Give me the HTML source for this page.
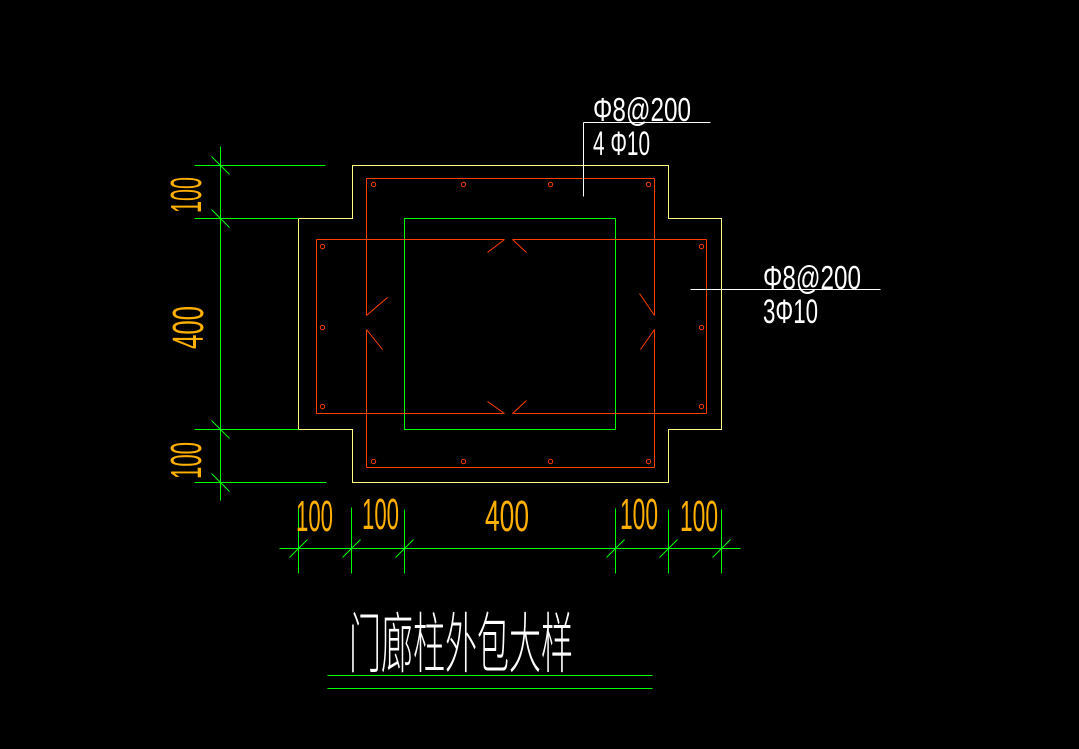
<!DOCTYPE html>
<html><head><meta charset="utf-8">
<style>
html,body{margin:0;padding:0;background:#000;}
svg{display:block;}
.t{font-family:"Liberation Sans",sans-serif;}
.c{font-family:"Liberation Sans","Noto Sans CJK SC",sans-serif;font-weight:200;}
</style></head>
<body>
<svg width="1079" height="749" viewBox="0 0 1079 749" xmlns="http://www.w3.org/2000/svg">
<rect width="1079" height="749" fill="#000"/>
<g transform="translate(0.5,0.5)" fill="none" stroke-width="1" shape-rendering="crispEdges">
  <!-- yellow outline -->
  <polygon stroke="#ffff80" points="352,165 668,165 668,218 721,218 721,429 668,429 668,482 352,482 352,429 298,429 298,218 352,218"/>
  <!-- green column -->
  <rect stroke="#00ff00" x="404" y="218" width="211" height="211"/>
  <!-- red vertical stirrup -->
  <g stroke="#ff3f00">
    <line x1="366" y1="178" x2="654" y2="178"/>
    <line x1="366" y1="467" x2="654" y2="467"/>
    <line x1="366" y1="178" x2="366" y2="315"/>
    <line x1="366" y1="329" x2="366" y2="467"/>
    <line x1="654" y1="178" x2="654" y2="315"/>
    <line x1="654" y1="329" x2="654" y2="467"/>
    <!-- horizontal stirrup -->
    <line x1="316" y1="239" x2="316" y2="413"/>
    <line x1="706" y1="239" x2="706" y2="413"/>
    <line x1="316" y1="239" x2="504" y2="239"/>
    <line x1="512" y1="239" x2="706" y2="239"/>
    <line x1="316" y1="413" x2="504" y2="413"/>
    <line x1="512" y1="413" x2="706" y2="413"/>
  </g>
  <g stroke="#ff3f00" shape-rendering="auto">
    <line x1="366" y1="315" x2="387" y2="297"/>
    <line x1="366" y1="329" x2="382" y2="349"/>
    <line x1="654" y1="315" x2="639" y2="293"/>
    <line x1="654" y1="329" x2="640" y2="349"/>
    <line x1="504" y1="239" x2="487" y2="252"/>
    <line x1="512" y1="239" x2="526" y2="252"/>
    <line x1="504" y1="413" x2="487" y2="401"/>
    <line x1="512" y1="413" x2="526" y2="400"/>
    <!-- rebar dots -->
    <circle cx="373" cy="184" r="2.2"/>
    <circle cx="463" cy="184" r="2.2"/>
    <circle cx="550" cy="184" r="2.2"/>
    <circle cx="648" cy="184" r="2.2"/>
    <circle cx="373" cy="461" r="2.2"/>
    <circle cx="463" cy="461" r="2.2"/>
    <circle cx="550" cy="461" r="2.2"/>
    <circle cx="648" cy="461" r="2.2"/>
    <circle cx="322" cy="246" r="2.2"/>
    <circle cx="322" cy="327" r="2.2"/>
    <circle cx="322" cy="406" r="2.2"/>
    <circle cx="701" cy="246" r="2.2"/>
    <circle cx="701" cy="327" r="2.2"/>
    <circle cx="701" cy="406" r="2.2"/>
  </g>
  <!-- left dimension -->
  <g stroke="#00ff00">
    <line x1="220" y1="146" x2="220" y2="500"/>
    <line x1="194" y1="165" x2="325" y2="165"/>
    <line x1="194" y1="218" x2="298" y2="218"/>
    <line x1="194" y1="429" x2="298" y2="429"/>
    <line x1="194" y1="482" x2="326" y2="482"/>
    <!-- bottom dimension -->
    <line x1="279" y1="548" x2="740" y2="548"/>
    <line x1="298" y1="508" x2="298" y2="573"/>
    <line x1="351" y1="507" x2="351" y2="573"/>
    <line x1="404" y1="509" x2="404" y2="573"/>
    <line x1="615" y1="508" x2="615" y2="573"/>
    <line x1="668" y1="509" x2="668" y2="573"/>
    <line x1="721" y1="509" x2="721" y2="573"/>
    <!-- title underlines -->
    <line x1="327" y1="675" x2="652" y2="675"/>
    <line x1="327" y1="688" x2="652" y2="688"/>
  </g>
  <g stroke="#00ff00" shape-rendering="auto">
    <line x1="211" y1="156" x2="229" y2="174"/>
    <line x1="211" y1="209" x2="229" y2="227"/>
    <line x1="211" y1="420" x2="229" y2="438"/>
    <line x1="211" y1="473" x2="229" y2="491"/>
    <line x1="289" y1="557" x2="307" y2="539"/>
    <line x1="342" y1="557" x2="360" y2="539"/>
    <line x1="395" y1="557" x2="413" y2="539"/>
    <line x1="606" y1="557" x2="624" y2="539"/>
    <line x1="659" y1="557" x2="677" y2="539"/>
    <line x1="712" y1="557" x2="730" y2="539"/>
  </g>
  <!-- leaders -->
  <g stroke="#ffffff">
    <line x1="583" y1="122" x2="710" y2="122"/>
    <line x1="583" y1="122" x2="583" y2="196"/>
    <line x1="690" y1="289" x2="880" y2="289"/>
  </g>
</g>
<!-- white labels -->
<g class="t" fill="#ffffff">
  <text x="593" y="121" font-size="33" textLength="98" lengthAdjust="spacingAndGlyphs">Φ8@200</text>
  <text x="593" y="155" font-size="34" textLength="57" lengthAdjust="spacingAndGlyphs">4 Φ10</text>
  <text x="763" y="289" font-size="33" textLength="98" lengthAdjust="spacingAndGlyphs">Φ8@200</text>
  <text x="763" y="323" font-size="34" textLength="55" lengthAdjust="spacingAndGlyphs">3Φ10</text>
</g>
<!-- orange dims -->
<g class="t" fill="#ffb000" font-size="44">
  <text x="296" y="531" textLength="37" lengthAdjust="spacingAndGlyphs">100</text>
  <text x="362" y="529" textLength="37" lengthAdjust="spacingAndGlyphs">100</text>
  <text x="485" y="531" textLength="44" lengthAdjust="spacingAndGlyphs">400</text>
  <text x="620" y="529" textLength="38" lengthAdjust="spacingAndGlyphs">100</text>
  <text x="680" y="531" textLength="38" lengthAdjust="spacingAndGlyphs">100</text>
  <text transform="translate(201,213) rotate(-90)" textLength="36" lengthAdjust="spacingAndGlyphs">100</text>
  <text transform="translate(203,349) rotate(-90)" textLength="43" lengthAdjust="spacingAndGlyphs">400</text>
  <text transform="translate(201,479) rotate(-90)" textLength="37" lengthAdjust="spacingAndGlyphs">100</text>
</g>
<!-- title -->
<text class="c" x="349" y="667" font-size="66" fill="#ffffff" textLength="224" lengthAdjust="spacingAndGlyphs">门廊柱外包大样</text>
</svg>
</body></html>
